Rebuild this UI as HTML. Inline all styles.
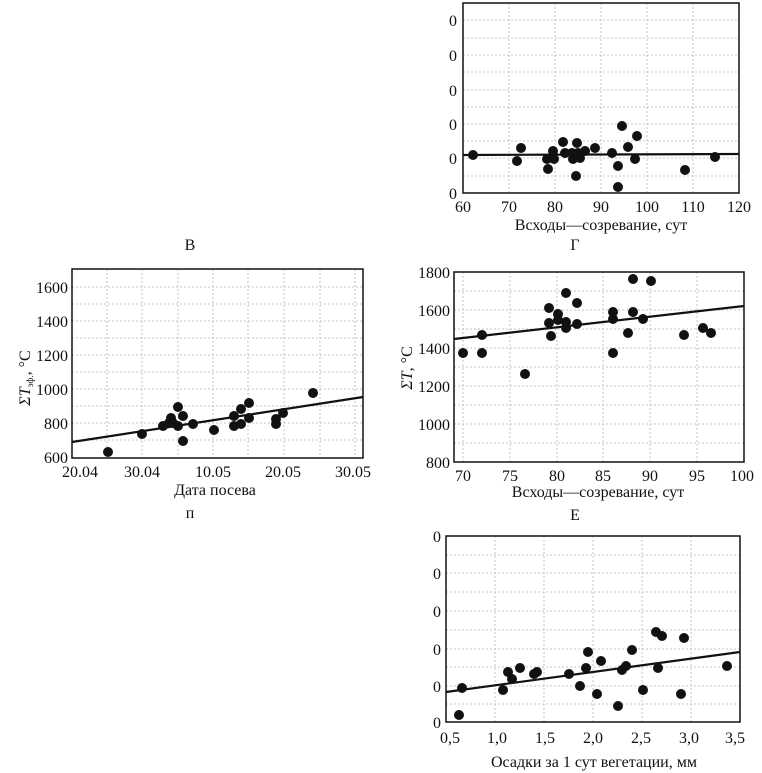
<!DOCTYPE html>
<html><head><meta charset="utf-8"><style>
html,body{margin:0;padding:0;background:#fff;}
svg{display:block;}
text{font-family:"Liberation Serif",serif;font-size:16px;fill:#111;}
.g{stroke:#c4c4c4;stroke-width:1;stroke-dasharray:2,2;}
.f{fill:none;stroke:#111;stroke-width:1.5;}
.l{stroke:#111;stroke-width:2.2;}
circle{fill:#111;}
</style></head><body>
<svg width="762" height="773" viewBox="0 0 762 773" xmlns="http://www.w3.org/2000/svg">
<!-- TOP RIGHT -->
<g>
<line class="g" x1="463" y1="20" x2="739" y2="20"/><line class="g" x1="463" y1="38" x2="739" y2="38"/><line class="g" x1="463" y1="55" x2="739" y2="55"/><line class="g" x1="463" y1="72" x2="739" y2="72"/><line class="g" x1="463" y1="90" x2="739" y2="90"/><line class="g" x1="463" y1="107" x2="739" y2="107"/><line class="g" x1="463" y1="124" x2="739" y2="124"/><line class="g" x1="463" y1="141" x2="739" y2="141"/><line class="g" x1="463" y1="158" x2="739" y2="158"/><line class="g" x1="463" y1="176" x2="739" y2="176"/>
<line class="g" x1="509" y1="3" x2="509" y2="193"/><line class="g" x1="555" y1="3" x2="555" y2="193"/><line class="g" x1="601" y1="3" x2="601" y2="193"/><line class="g" x1="647" y1="3" x2="647" y2="193"/><line class="g" x1="693" y1="3" x2="693" y2="193"/>
<rect class="f" x="463" y="3" width="276" height="190"/>
<g text-anchor="end"><text x="457" y="26">0</text><text x="457" y="61">0</text><text x="457" y="96">0</text><text x="457" y="130">0</text><text x="457" y="164">0</text><text x="457" y="199">0</text></g>
<g text-anchor="middle"><text x="463" y="212">60</text><text x="509" y="212">70</text><text x="555" y="212">80</text><text x="601" y="212">90</text><text x="647" y="212">100</text><text x="693" y="212">110</text><text x="739" y="212">120</text>
<text x="601" y="230">Всходы—созревание, сут</text></g>
<line class="l" x1="463" y1="155" x2="739" y2="154"/>
<g>
<circle cx="473" cy="155" r="5"/><circle cx="517" cy="161" r="5"/><circle cx="521" cy="148" r="5"/><circle cx="547" cy="159" r="5"/><circle cx="548" cy="169" r="5"/><circle cx="553" cy="151" r="5"/><circle cx="554" cy="159" r="5"/><circle cx="563" cy="142" r="5"/><circle cx="565" cy="153" r="5"/><circle cx="572" cy="153" r="5"/><circle cx="573" cy="159" r="5"/><circle cx="577" cy="143" r="5"/><circle cx="578" cy="153" r="5"/><circle cx="576" cy="176" r="5"/><circle cx="580" cy="158" r="5"/><circle cx="585" cy="151" r="5"/><circle cx="595" cy="148" r="5"/><circle cx="612" cy="153" r="5"/><circle cx="618" cy="166" r="5"/><circle cx="618" cy="187" r="5"/><circle cx="622" cy="126" r="5"/><circle cx="628" cy="147" r="5"/><circle cx="637" cy="136" r="5"/><circle cx="635" cy="159" r="5"/><circle cx="685" cy="170" r="5"/><circle cx="715" cy="157" r="5"/>
</g>
</g>
<text x="190" y="250" text-anchor="middle">В</text>
<text x="575" y="250" text-anchor="middle">Г</text>
<!-- B -->
<g>
<line class="g" x1="72" y1="287" x2="363" y2="287"/><line class="g" x1="72" y1="304" x2="363" y2="304"/><line class="g" x1="72" y1="321" x2="363" y2="321"/><line class="g" x1="72" y1="338" x2="363" y2="338"/><line class="g" x1="72" y1="355" x2="363" y2="355"/><line class="g" x1="72" y1="372" x2="363" y2="372"/><line class="g" x1="72" y1="389" x2="363" y2="389"/><line class="g" x1="72" y1="406" x2="363" y2="406"/><line class="g" x1="72" y1="423" x2="363" y2="423"/><line class="g" x1="72" y1="440" x2="363" y2="440"/>
<line class="g" x1="107" y1="269" x2="107" y2="458"/><line class="g" x1="142" y1="269" x2="142" y2="458"/><line class="g" x1="178" y1="269" x2="178" y2="458"/><line class="g" x1="213" y1="269" x2="213" y2="458"/><line class="g" x1="248" y1="269" x2="248" y2="458"/><line class="g" x1="284" y1="269" x2="284" y2="458"/><line class="g" x1="320" y1="269" x2="320" y2="458"/><line class="g" x1="355" y1="269" x2="355" y2="458"/>
<rect class="f" x="72" y="269" width="291" height="189"/>
<g text-anchor="end"><text x="68" y="293">1600</text><text x="68" y="327">1400</text><text x="68" y="361">1200</text><text x="68" y="395">1000</text><text x="68" y="429">800</text><text x="68" y="463">600</text></g>
<g text-anchor="middle"><text x="80" y="477">20.04</text><text x="142" y="477">30.04</text><text x="213" y="477">10.05</text><text x="283" y="477">20.05</text><text x="353" y="477">30.05</text>
<text x="215" y="495">Дата посева</text></g>
<text transform="translate(30,378) rotate(-90)" text-anchor="middle" style="font-size:16px"><tspan font-style="italic">ΣT</tspan><tspan font-size="9" dy="3">эф.</tspan><tspan dy="-3">, °C</tspan></text>
<line class="l" x1="72" y1="442" x2="363" y2="397"/>
<circle cx="108" cy="452" r="5"/><circle cx="142" cy="434" r="5"/><circle cx="163" cy="426" r="5"/><circle cx="171" cy="418" r="5"/><circle cx="178" cy="407" r="5"/><circle cx="173" cy="423" r="5"/><circle cx="178" cy="426" r="5"/><circle cx="183" cy="416" r="5"/><circle cx="183" cy="441" r="5"/><circle cx="193" cy="424" r="5"/><circle cx="169" cy="423" r="5"/><circle cx="214" cy="430" r="5"/><circle cx="234" cy="416" r="5"/><circle cx="234" cy="426" r="5"/><circle cx="241" cy="409" r="5"/><circle cx="241" cy="424" r="5"/><circle cx="249" cy="403" r="5"/><circle cx="249" cy="418" r="5"/><circle cx="276" cy="419" r="5"/><circle cx="276" cy="424" r="5"/><circle cx="283" cy="413" r="5"/><circle cx="313" cy="393" r="5"/>
</g>
<!-- Г -->
<g>
<line class="g" x1="454" y1="291" x2="744" y2="291"/><line class="g" x1="454" y1="310" x2="744" y2="310"/><line class="g" x1="454" y1="329" x2="744" y2="329"/><line class="g" x1="454" y1="348" x2="744" y2="348"/><line class="g" x1="454" y1="367" x2="744" y2="367"/><line class="g" x1="454" y1="386" x2="744" y2="386"/><line class="g" x1="454" y1="405" x2="744" y2="405"/><line class="g" x1="454" y1="424" x2="744" y2="424"/><line class="g" x1="454" y1="443" x2="744" y2="443"/>
<line class="g" x1="463" y1="272" x2="463" y2="462"/><line class="g" x1="510" y1="272" x2="510" y2="462"/><line class="g" x1="557" y1="272" x2="557" y2="462"/><line class="g" x1="603" y1="272" x2="603" y2="462"/><line class="g" x1="650" y1="272" x2="650" y2="462"/><line class="g" x1="697" y1="272" x2="697" y2="462"/>
<rect class="f" x="454" y="272" width="290" height="190"/>
<g text-anchor="end"><text x="450" y="278">1800</text><text x="450" y="316">1600</text><text x="450" y="354">1400</text><text x="450" y="392">1200</text><text x="450" y="430">1000</text><text x="450" y="468">800</text></g>
<g text-anchor="middle"><text x="463" y="481">70</text><text x="510" y="481">75</text><text x="557" y="481">80</text><text x="603" y="481">85</text><text x="650" y="481">90</text><text x="697" y="481">95</text><text x="742" y="481">100</text>
<text x="598" y="497">Всходы—созревание, сут</text></g>
<text transform="translate(412,368) rotate(-90)" text-anchor="middle" style="font-size:16px"><tspan font-style="italic">ΣT</tspan>, °C</text>
<line class="l" x1="454" y1="339" x2="744" y2="306"/>
<circle cx="463" cy="353" r="5"/><circle cx="482" cy="353" r="5"/><circle cx="482" cy="335" r="5"/><circle cx="525" cy="374" r="5"/><circle cx="549" cy="308" r="5"/><circle cx="549" cy="323" r="5"/><circle cx="551" cy="336" r="5"/><circle cx="558" cy="314" r="5"/><circle cx="558" cy="320" r="5"/><circle cx="566" cy="293" r="5"/><circle cx="566" cy="322" r="5"/><circle cx="566" cy="328" r="5"/><circle cx="577" cy="303" r="5"/><circle cx="577" cy="324" r="5"/><circle cx="613" cy="312" r="5"/><circle cx="613" cy="319" r="5"/><circle cx="613" cy="353" r="5"/><circle cx="628" cy="333" r="5"/><circle cx="633" cy="279" r="5"/><circle cx="633" cy="312" r="5"/><circle cx="643" cy="319" r="5"/><circle cx="651" cy="281" r="5"/><circle cx="684" cy="335" r="5"/><circle cx="703" cy="328" r="5"/><circle cx="711" cy="333" r="5"/>
</g>
<text x="190" y="518" text-anchor="middle">п</text>
<text x="575" y="520" text-anchor="middle">Е</text>
<!-- E -->
<g>
<line class="g" x1="446" y1="555" x2="740" y2="555"/><line class="g" x1="446" y1="573" x2="740" y2="573"/><line class="g" x1="446" y1="592" x2="740" y2="592"/><line class="g" x1="446" y1="611" x2="740" y2="611"/><line class="g" x1="446" y1="630" x2="740" y2="630"/><line class="g" x1="446" y1="649" x2="740" y2="649"/><line class="g" x1="446" y1="667" x2="740" y2="667"/><line class="g" x1="446" y1="686" x2="740" y2="686"/><line class="g" x1="446" y1="704" x2="740" y2="704"/>
<line class="g" x1="495" y1="536" x2="495" y2="722"/><line class="g" x1="544" y1="536" x2="544" y2="722"/><line class="g" x1="593" y1="536" x2="593" y2="722"/><line class="g" x1="642" y1="536" x2="642" y2="722"/><line class="g" x1="691" y1="536" x2="691" y2="722"/>
<rect class="f" x="446" y="536" width="294" height="186"/>
<g text-anchor="end"><text x="441" y="542">0</text><text x="441" y="579">0</text><text x="441" y="617">0</text><text x="441" y="655">0</text><text x="441" y="692">0</text><text x="441" y="728">0</text></g>
<g text-anchor="middle"><text x="450" y="743">0,5</text><text x="497" y="743">1,0</text><text x="545" y="743">1,5</text><text x="593" y="743">2,0</text><text x="641" y="743">2,5</text><text x="689" y="743">3,0</text><text x="735" y="743">3,5</text>
<text x="594" y="767">Осадки за 1 сут вегетации, мм</text></g>
<line class="l" x1="446" y1="692" x2="740" y2="652"/>
<circle cx="459" cy="715" r="5"/><circle cx="462" cy="688" r="5"/><circle cx="503" cy="690" r="5"/><circle cx="508" cy="672" r="5"/><circle cx="512" cy="679" r="5"/><circle cx="520" cy="668" r="5"/><circle cx="534" cy="674" r="5"/><circle cx="537" cy="672" r="5"/><circle cx="569" cy="674" r="5"/><circle cx="580" cy="686" r="5"/><circle cx="586" cy="668" r="5"/><circle cx="588" cy="652" r="5"/><circle cx="597" cy="694" r="5"/><circle cx="601" cy="661" r="5"/><circle cx="618" cy="706" r="5"/><circle cx="622" cy="670" r="5"/><circle cx="626" cy="666" r="5"/><circle cx="632" cy="650" r="5"/><circle cx="643" cy="690" r="5"/><circle cx="656" cy="632" r="5"/><circle cx="658" cy="668" r="5"/><circle cx="662" cy="636" r="5"/><circle cx="681" cy="694" r="5"/><circle cx="684" cy="638" r="5"/><circle cx="727" cy="666" r="5"/>
</g>
</svg>
</body></html>
